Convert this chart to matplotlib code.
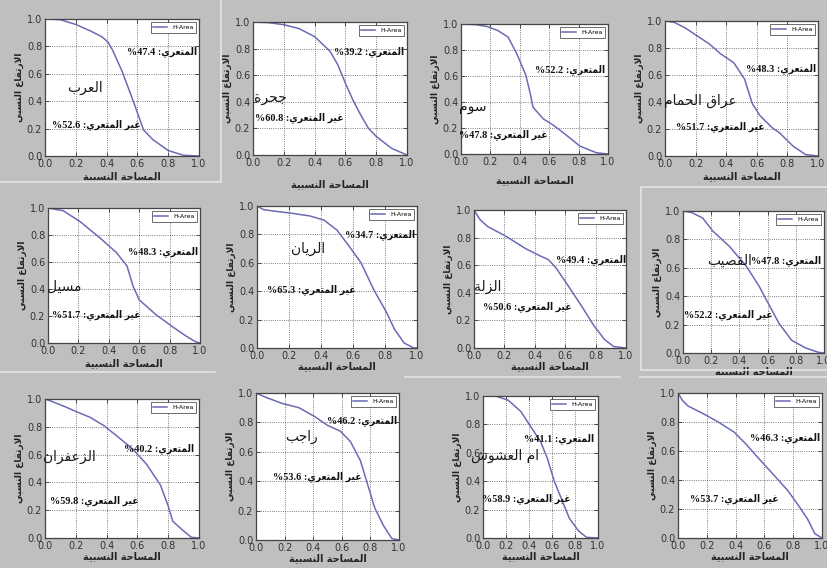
import matplotlib
matplotlib.use("Agg")
import matplotlib.pyplot as plt
from matplotlib.lines import Line2D

# ---------------- Arabic shaping helper (presentation forms + RTL order) -------------
FORMS = {  # isolated, final, initial, medial
    'ا': (0xFE8D, 0xFE8E, None, None), 'أ': (0xFE83, 0xFE84, None, None),
    'إ': (0xFE87, 0xFE88, None, None), 'آ': (0xFE81, 0xFE82, None, None),
    'ب': (0xFE8F, 0xFE90, 0xFE91, 0xFE92), 'ة': (0xFE93, 0xFE94, None, None),
    'ت': (0xFE95, 0xFE96, 0xFE97, 0xFE98), 'ث': (0xFE99, 0xFE9A, 0xFE9B, 0xFE9C),
    'ج': (0xFE9D, 0xFE9E, 0xFE9F, 0xFEA0), 'ح': (0xFEA1, 0xFEA2, 0xFEA3, 0xFEA4),
    'خ': (0xFEA5, 0xFEA6, 0xFEA7, 0xFEA8), 'د': (0xFEA9, 0xFEAA, None, None),
    'ذ': (0xFEAB, 0xFEAC, None, None), 'ر': (0xFEAD, 0xFEAE, None, None),
    'ز': (0xFEAF, 0xFEB0, None, None), 'س': (0xFEB1, 0xFEB2, 0xFEB3, 0xFEB4),
    'ش': (0xFEB5, 0xFEB6, 0xFEB7, 0xFEB8), 'ص': (0xFEB9, 0xFEBA, 0xFEBB, 0xFEBC),
    'ض': (0xFEBD, 0xFEBE, 0xFEBF, 0xFEC0), 'ط': (0xFEC1, 0xFEC2, 0xFEC3, 0xFEC4),
    'ظ': (0xFEC5, 0xFEC6, 0xFEC7, 0xFEC8), 'ع': (0xFEC9, 0xFECA, 0xFECB, 0xFECC),
    'غ': (0xFECD, 0xFECE, 0xFECF, 0xFED0), 'ف': (0xFED1, 0xFED2, 0xFED3, 0xFED4),
    'ق': (0xFED5, 0xFED6, 0xFED7, 0xFED8), 'ك': (0xFED9, 0xFEDA, 0xFEDB, 0xFEDC),
    'ل': (0xFEDD, 0xFEDE, 0xFEDF, 0xFEE0), 'م': (0xFEE1, 0xFEE2, 0xFEE3, 0xFEE4),
    'ن': (0xFEE5, 0xFEE6, 0xFEE7, 0xFEE8), 'ه': (0xFEE9, 0xFEEA, 0xFEEB, 0xFEEC),
    'و': (0xFEED, 0xFEEE, None, None), 'ى': (0xFEEF, 0xFEF0, None, None),
    'ي': (0xFEF1, 0xFEF2, 0xFEF3, 0xFEF4),
}
LAMALEF = {'ا': (0xFEFB, 0xFEFC), 'أ': (0xFEF7, 0xFEF8),
           'إ': (0xFEF9, 0xFEFA), 'آ': (0xFEF5, 0xFEF6)}


def _dual(c):
    return c in FORMS and FORMS[c][2] is not None


def shape(s):
    out, i, n = [], 0, len(s)
    while i < n:
        c = s[i]
        if c not in FORMS:
            out.append(c); i += 1; continue
        pj = i > 0 and _dual(s[i - 1])
        if c == 'ل' and i + 1 < n and s[i + 1] in LAMALEF:
            out.append(chr(LAMALEF[s[i + 1]][1 if pj else 0])); i += 2; continue
        nj = _dual(c) and i + 1 < n and s[i + 1] in FORMS
        iso, fin, ini, med = FORMS[c]
        g = med if (pj and nj) else fin if pj else ini if nj else iso
        out.append(chr(g)); i += 1
    return ''.join(out)


def A(s):
    return shape(s)[::-1]


# ---------------- data ----------------
names = ["العرب", "جحرة", "سوم", "عراق الحمام",
         "مسيل", "الريان", "الزلة", "القصيب",
         "الزعفران", "راجب", "ام العشوش", ""]
eroded = [47.4, 39.2, 52.2, 48.3, 48.3, 34.7, 49.4, 47.8, 40.2, 46.2, 41.1, 46.3]
uneroded = [52.6, 60.8, 47.8, 51.7, 51.7, 65.3, 50.6, 52.2, 59.8, 53.6, 58.9, 53.7]

curve_x = [
    [0, 0.1, 0.2, 0.3, 0.37, 0.41, 0.44, 0.5, 0.57, 0.64, 0.7, 0.8, 0.9, 1.0],
    [0, 0.1, 0.2, 0.3, 0.4, 0.5, 0.55, 0.6, 0.65, 0.7, 0.75, 0.8, 0.9, 1.0],
    [0, 0.1, 0.18, 0.25, 0.32, 0.38, 0.44, 0.47, 0.49, 0.56, 0.63, 0.7, 0.81, 0.92, 1.0],
    [0, 0.06, 0.13, 0.21, 0.29, 0.36, 0.45, 0.52, 0.57, 0.62, 0.7, 0.75, 0.84, 0.92, 1.0],
    [0, 0.1, 0.21, 0.34, 0.45, 0.52, 0.56, 0.6, 0.71, 0.82, 0.91, 0.97, 1.0],
    [0, 0.04, 0.1, 0.21, 0.33, 0.42, 0.5, 0.58, 0.65, 0.73, 0.81, 0.86, 0.92, 0.98, 1.0],
    [0, 0.04, 0.09, 0.21, 0.34, 0.43, 0.49, 0.54, 0.62, 0.71, 0.79, 0.86, 0.92, 1.0],
    [0, 0.06, 0.14, 0.21, 0.33, 0.45, 0.54, 0.61, 0.68, 0.77, 0.87, 0.96, 1.0],
    [0, 0.05, 0.14, 0.2, 0.29, 0.38, 0.46, 0.57, 0.66, 0.75, 0.8, 0.83, 0.89, 0.95, 1.0],
    [0, 0.07, 0.18, 0.3, 0.41, 0.5, 0.59, 0.66, 0.73, 0.78, 0.83, 0.89, 0.95, 1.0],
    [0, 0.11, 0.22, 0.33, 0.41, 0.5, 0.56, 0.62, 0.69, 0.75, 0.83, 0.9, 1.0],
    [0, 0.03, 0.07, 0.17, 0.28, 0.39, 0.47, 0.55, 0.66, 0.76, 0.84, 0.9, 0.95, 1.0],
]
curve_y = [
    [1.0, 0.995, 0.96, 0.91, 0.87, 0.83, 0.77, 0.62, 0.41, 0.19, 0.12, 0.04, 0.005, 0.0],
    [1.0, 0.995, 0.98, 0.95, 0.89, 0.78, 0.68, 0.54, 0.41, 0.3, 0.2, 0.14, 0.05, 0.0],
    [1.0, 0.995, 0.98, 0.95, 0.9, 0.77, 0.61, 0.47, 0.36, 0.27, 0.22, 0.16, 0.06, 0.01, 0.0],
    [1.0, 0.99, 0.95, 0.89, 0.83, 0.76, 0.69, 0.57, 0.39, 0.3, 0.21, 0.17, 0.07, 0.01, 0.0],
    [1.0, 0.98, 0.9, 0.78, 0.67, 0.57, 0.42, 0.32, 0.21, 0.12, 0.05, 0.01, 0.0],
    [1.0, 0.975, 0.965, 0.95, 0.93, 0.9, 0.83, 0.71, 0.6, 0.41, 0.25, 0.13, 0.035, 0.0, 0.0],
    [1.0, 0.93, 0.88, 0.81, 0.72, 0.67, 0.64, 0.58, 0.45, 0.3, 0.16, 0.06, 0.01, 0.0],
    [1.0, 0.99, 0.95, 0.86, 0.75, 0.61, 0.47, 0.34, 0.21, 0.09, 0.035, 0.005, 0.0],
    [1.0, 0.98, 0.94, 0.91, 0.87, 0.81, 0.74, 0.64, 0.53, 0.38, 0.23, 0.12, 0.06, 0.005, 0.0],
    [1.0, 0.97, 0.93, 0.9, 0.84, 0.78, 0.74, 0.67, 0.54, 0.38, 0.22, 0.1, 0.01, 0.0],
    [1.0, 1.0, 0.97, 0.89, 0.79, 0.68, 0.56, 0.4, 0.26, 0.14, 0.05, 0.005, 0.0],
    [1.0, 0.95, 0.91, 0.86, 0.8, 0.73, 0.65, 0.56, 0.44, 0.33, 0.22, 0.13, 0.03, 0.0],
]
ticks = [0.0, 0.2, 0.4, 0.6, 0.8, 1.0]
tick_labels = ["0.0", "0.2", "0.4", "0.6", "0.8", "1.0"]
legend_label = "H-Area"
xlabel_text = "المساحة النسبية"
ylabel_text = "الارتفاع النسبي"
eroded_word = "المتعري"
uneroded_word = "غير المتعري"

# ---------------- layout (pixels: left, right, top, bottom) ----------------
W, H = 828, 568
boxes = [
    (45, 199, 19, 156), (253, 407, 22, 155), (461, 608, 24, 154), (665, 818, 21, 156),
    (48, 200, 208, 343), (257, 417, 206, 348), (474, 626, 210, 348), (683, 824, 211, 353),
    (45, 199, 399, 538), (256, 399, 393, 540), (483, 598, 396, 538), (678, 822, 393, 538),
]
# text anchors in axes fraction:
# (upper right-x, upper y, lower centre-x, lower y, name x, name y)
txt = [
    (0.99, 0.76, 0.33, 0.23, 0.26, 0.50),
    (0.98, 0.78, 0.30, 0.28, 0.11, 0.43),
    (0.98, 0.65, 0.29, 0.15, 0.08, 0.36),
    (0.99, 0.65, 0.36, 0.22, 0.23, 0.41),
    (0.99, 0.68, 0.32, 0.21, 0.11, 0.42),
    (0.99, 0.80, 0.34, 0.41, 0.32, 0.70),
    (1.00, 0.64, 0.35, 0.30, 0.09, 0.44),
    (0.98, 0.65, 0.32, 0.27, 0.33, 0.65),
    (0.97, 0.64, 0.32, 0.27, 0.16, 0.58),
    (0.99, 0.81, 0.43, 0.43, 0.32, 0.70),
    (0.97, 0.70, 0.38, 0.28, 0.19, 0.58),
    (0.99, 0.69, 0.39, 0.27, 0.50, 0.50),
]
xlabel_pad = [2, 8, 6, 2, 2, 0, 0, 0, 0, 0, 0, 0]

BG = '#bfbfbf'
LINE = '#6b6bb5'
fig = plt.figure(figsize=(W / 100, H / 100), dpi=100, facecolor=BG)

# light frame lines of the collage
frame_lines = [
    ((0, 221), (182, 182)), ((221, 221), (0, 182)), ((0, 215), (372, 372)),
    ((641, 828), (187, 187)), ((641, 641), (187, 370)), ((641, 828), (370, 370)),
    ((405, 620), (377, 377)), ((640, 828), (377, 377)),
]
for (xs, ys) in frame_lines:
    fig.add_artist(Line2D([x / W for x in xs], [1 - y / H for y in ys],
                          color='#e4e4e4', lw=1.2, transform=fig.transFigure))

text_family = ['Liberation Serif', 'DejaVu Sans']

for k in range(12):
    l, r, t, b = boxes[k]
    ax = fig.add_axes([l / W, 1 - b / H, (r - l) / W, (b - t) / H])
    ax.set_facecolor('white')
    ax.plot(curve_x[k], curve_y[k], color=LINE, lw=1.1, label=legend_label)
    ax.set_xlim(0, 1)
    ax.set_ylim(0, 1)
    ax.set_xticks(ticks)
    ax.set_yticks(ticks)
    ax.set_xticklabels(tick_labels)
    ax.set_yticklabels(tick_labels)
    ax.tick_params(direction='in', top=True, right=True, length=3, width=0.6,
                   labelsize=7, colors='#333333', pad=2)
    ax.grid(True, linestyle=':', color='#555555', lw=0.6)
    for s in ax.spines.values():
        s.set_color('#444444')
        s.set_linewidth(0.9)
    ax.set_xlabel(A(xlabel_text), fontsize=7, fontweight='bold', color='#222222',
                  labelpad=xlabel_pad[k], family=['DejaVu Sans'])
    ax.set_ylabel(A(ylabel_text), fontsize=6.5, fontweight='bold', color='#222222',
                  labelpad=2, family=['DejaVu Sans'])
    leg = ax.legend(loc='upper right', fontsize=4.5, handlelength=2.2,
                    borderpad=0.4, fancybox=False, framealpha=1,
                    borderaxespad=0.5)
    leg.get_frame().set_edgecolor('#333333')
    leg.get_frame().set_linewidth(0.5)

    ux, uy, lx, ly, nx, ny = txt[k]
    ax.text(ux, uy, f"%{eroded[k]:.1f} :" + A(eroded_word), transform=ax.transAxes,
            ha='right', va='center', fontsize=7.4, fontweight='bold',
            fontstretch='condensed', family=text_family, color='#111111')
    ax.text(lx, ly, f"%{uneroded[k]:.1f} :" + A(uneroded_word), transform=ax.transAxes,
            ha='center', va='center', fontsize=7.4, fontweight='bold',
            fontstretch='condensed', family=text_family, color='#111111')
    if names[k]:
        ax.text(nx, ny, A(names[k]), transform=ax.transAxes, ha='center',
                va='center', fontsize=10, family=['DejaVu Sans'], color='#1a1a1a')

fig.savefig('out.png', dpi=100, facecolor=BG)
